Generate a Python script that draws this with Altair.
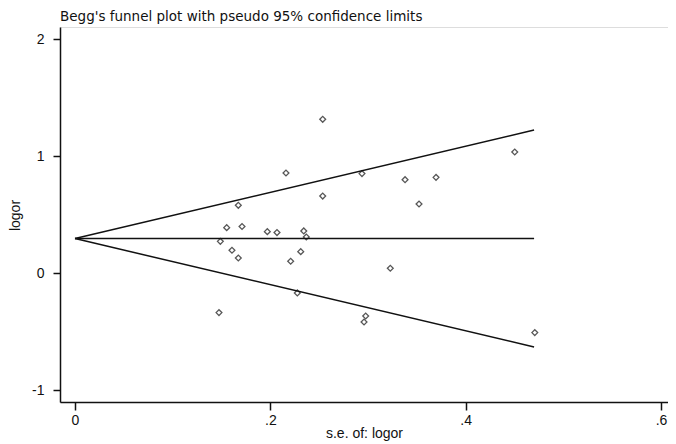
import altair as alt
import pandas as pd

# Study points: standard error of log OR, log OR
se = [0.2536, 0.2160, 0.2536, 0.1672, 0.1553, 0.1710, 0.1969, 0.2068, 0.2342,
      0.2368, 0.1488, 0.1607, 0.1672, 0.2311, 0.2208, 0.2276, 0.2938, 0.3379,
      0.3696, 0.3522, 0.3228, 0.4502, 0.4707, 0.1474, 0.2976, 0.2959]
logor = [1.316, 0.857, 0.660, 0.581, 0.390, 0.400, 0.356, 0.348, 0.362,
         0.310, 0.273, 0.197, 0.131, 0.185, 0.103, -0.168, 0.852, 0.800,
         0.820, 0.592, 0.043, 1.037, -0.507, -0.336, -0.365, -0.416]

# Funnel lines (pseudo 95% limits) from se=0 to max se
funnel_se = [0.0, 0.47]
funnel_upper = [0.297, 1.224]
funnel_mid = [0.297, 0.297]
funnel_lower = [0.297, -0.630]

x_ticks = [0, 0.2, 0.4, 0.6]
y_ticks = [-1, 0, 1, 2]

pts = pd.DataFrame({"se": se, "logor": logor})
rows = []
for name, ys in [("upper", funnel_upper), ("mid", funnel_mid), ("lower", funnel_lower)]:
    for s, v in zip(funnel_se, ys):
        rows.append({"line": name, "se": s, "logor": v})
lines = pd.DataFrame(rows)

FONT = "Liberation Sans"
INK = "#111111"

xscale = alt.Scale(domain=[-0.01536, 0.6071], nice=False, zero=False)
yscale = alt.Scale(domain=[-1.100, 2.105], nice=False, zero=False)

xaxis = alt.Axis(
    values=x_ticks,
    labelExpr="datum.value == 0 ? '0' : '.' + round(datum.value * 10)",
    grid=False, domainColor=INK, domainWidth=1.5, tickColor=INK, tickWidth=1.5,
    tickSize=8, labelPadding=3, labelFont=FONT, labelFontSize=14, labelColor=INK,
    title="s.e. of: logor", titleFont=FONT, titleFontSize=14, titleFontWeight="normal",
    titleColor=INK, titleX=304, titleY=31, titleBaseline="middle",
)
yaxis = alt.Axis(
    values=y_ticks,
    labelExpr="'' + datum.value",
    grid=False, domainColor=INK, domainWidth=1.5, tickColor=INK, tickWidth=1.5,
    tickSize=7, labelPadding=9, labelFont=FONT, labelFontSize=14, labelColor=INK,
    title="logor", titleFont=FONT, titleFontSize=14, titleFontWeight="normal",
    titleColor=INK, titleX=-45, titleY=188, titleBaseline="middle", titleAngle=-90,
)

line_layer = alt.Chart(lines).mark_line(color=INK, strokeWidth=1.5).encode(
    x=alt.X("se:Q", scale=xscale, axis=xaxis),
    y=alt.Y("logor:Q", scale=yscale, axis=yaxis),
    detail="line:N",
)

point_layer = alt.Chart(pts).mark_point(
    shape="diamond", filled=False, color=INK, size=34, strokeWidth=1.3
).encode(
    x=alt.X("se:Q", scale=xscale),
    y=alt.Y("logor:Q", scale=yscale),
)

chart = (
    alt.layer(line_layer, point_layer)
    .properties(
        width=608,
        height=375,
        title=alt.TitleParams(
            "Begg's funnel plot with pseudo 95% confidence limits",
            anchor="start", frame="group", font="DejaVu Sans", fontSize=13.5,
            fontWeight="normal", color=INK, offset=4,
        ),
        autosize=alt.AutoSizeParams(type="none"),
        padding={"left": 52, "top": 19, "right": 0, "bottom": 42},
    )
    .configure_view(stroke=None)
    .configure(background="white")
)

chart.save("out.html", embed_options={"renderer": "svg", "actions": False})
